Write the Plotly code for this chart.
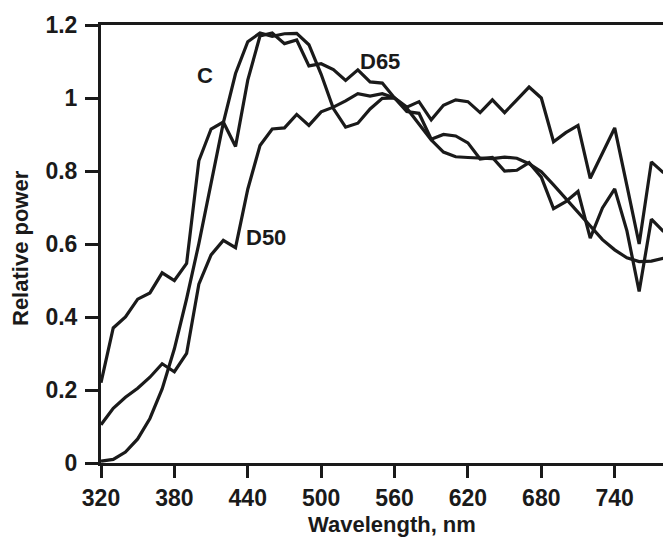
import plotly.graph_objects as go

wavelength = list(range(320, 790, 10))

d65 = [0.22, 0.370, 0.400, 0.449, 0.466, 0.521, 0.500, 0.547, 0.828, 0.915,
       0.934, 0.867, 1.049, 1.170, 1.178, 1.149, 1.159, 1.088, 1.094, 1.078,
       1.048, 1.077, 1.044, 1.041, 1.000, 0.963, 0.958, 0.887, 0.900, 0.896,
       0.877, 0.833, 0.837, 0.800, 0.802, 0.823, 0.783, 0.697, 0.716, 0.744,
       0.616, 0.699, 0.751, 0.636, 0.470, 0.668, 0.634]

c_illum = [0.005, 0.010, 0.030, 0.066, 0.122, 0.203, 0.313, 0.450, 0.601, 0.765,
           0.932, 1.067, 1.154, 1.178, 1.169, 1.176, 1.177, 1.146, 1.065, 0.971,
           0.920, 0.931, 0.970, 0.999, 1.000, 0.972, 0.929, 0.885, 0.852, 0.839,
           0.837, 0.836, 0.834, 0.838, 0.835, 0.820, 0.798, 0.762, 0.725, 0.688,
           0.649, 0.612, 0.584, 0.562, 0.552, 0.553, 0.561]

d50 = [0.105, 0.150, 0.180, 0.205, 0.235, 0.272, 0.250, 0.300, 0.490, 0.570,
       0.610, 0.590, 0.750, 0.870, 0.915, 0.918, 0.955, 0.925, 0.962, 0.975,
       0.992, 1.012, 1.005, 1.012, 1.000, 0.975, 0.990, 0.940, 0.980, 0.995,
       0.990, 0.960, 0.995, 0.960, 0.995, 1.030, 1.000, 0.880, 0.905, 0.925,
       0.780, 0.850, 0.918, 0.760, 0.600, 0.825, 0.795]

x_ticks = [320, 380, 440, 500, 560, 620, 680, 740]
y_ticks = [0, 0.2, 0.4, 0.6, 0.8, 1.0, 1.2]
y_tick_text = ["0", "0.2", "0.4", "0.6", "0.8", "1", "1.2"]

labels = [("C", 405, 1.063), ("D65", 548, 1.099), ("D50", 455, 0.619)]

ink = "#1a1a1a"
font_family = "Arial, Liberation Sans, sans-serif"

def f(size):
    return dict(family=font_family, size=size, color=ink, weight="bold")

fig = go.Figure()
for name, ys in [("D65", d65), ("C", c_illum), ("D50", d50)]:
    fig.add_trace(go.Scatter(x=wavelength, y=ys, mode="lines", name=name,
                             line=dict(color=ink, width=3.2), showlegend=False))

for text, xv, yv in labels:
    fig.add_annotation(x=xv, y=yv, text=text, showarrow=False,
                       xanchor="center", yanchor="middle", font=f(22))

fig.add_annotation(xref="paper", yref="paper", x=(392 - 101) / 562, y=-(524 - 463) / 438,
                   xanchor="center", yanchor="middle",
                   text="Wavelength, nm", showarrow=False, font=f(22))
fig.add_annotation(xref="paper", yref="paper", x=-(101 - 20) / 562, y=(463 - 248) / 438,
                   xanchor="center", yanchor="middle",
                   text="Relative power", showarrow=False, textangle=-90, font=f(22))

fig.update_layout(
    width=663, height=546,
    margin=dict(l=101, r=0, t=25, b=83),
    paper_bgcolor="white", plot_bgcolor="white",
    font=f(22),
)
fig.update_xaxes(range=[320, 779.5], tickvals=x_ticks, ticks="outside", ticklen=12,
                 tickwidth=3, tickcolor=ink, showline=True, linewidth=3, linecolor=ink,
                 mirror=True, showgrid=False, zeroline=False, tickfont=f(23))
fig.update_yaxes(range=[0, 1.2], tickvals=y_ticks, ticktext=y_tick_text, ticks="outside",
                 ticklen=13, tickwidth=3, tickcolor=ink, showline=True, linewidth=3,
                 linecolor=ink, showgrid=False, zeroline=False, tickfont=f(23),
                 ticklabelstandoff=3)

fig.write_html("out.html")
